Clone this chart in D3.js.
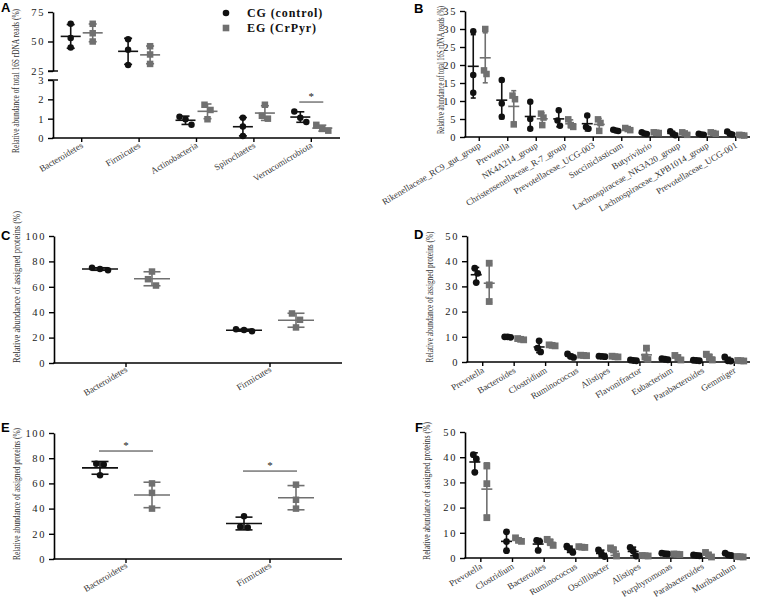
<!doctype html>
<html>
<head>
<meta charset="utf-8">
<title></title>
<style>
body{margin:0;background:#fff;}
svg text{font-family:"Liberation Serif","Times New Roman",serif;}
</style>
</head>
<body>
<svg></svg>
<script src="https://cdn.jsdelivr.net/npm/d3@7/dist/d3.min.js"></script>
<script>
var width = 758, height = 603;
var cgColor = '#111', egColor = '#707070';

// A: phyla, 16S reads (broken axis)
var aCategories = ['Bacteroidetes','Firmicutes','Actinobacteria','Spirochaetes','Verrucomicrobiota'];
var aCG = [[65,53,45],[52,43,30],[1.1,0.97,0.68],[1.05,0.6,0.1],[1.37,1.05,0.83]];
var aEG = [[65,57,50],[46,39,31],[1.72,1.45,0.97],[1.72,1.15,1.0],[0.68,0.47,0.38]];
var aTicksUpper = [25,50,75];
var aTicksLower = [0,1,2,3];

// B: genera, 16S reads
var bCategories = ['Rikenellaceae_RC9_gut_group','Prevotella','NK4A214_group','Christensenellaceae_R-7_group',
  'Prevotellaceae_UCG-003','Succiniclasticum','Butyrivibrio','Lachnospiraceae_NK3A20_group',
  'Lachnospiraceae_XPB1014_group','Prevotellaceae_UCG-001'];
var bCG = [[29.4,17.2,12.3],[15.8,9.3,5.6],[9.8,5.0,2.3],[7.4,4.6,3.1],[6.0,2.8,2.3],[2.0,1.8,1.7],[1.3,1.0,0.8],[1.6,0.9,0.5],[0.9,0.7,0.6],[1.5,0.9,0.7]];
var bEG = [[30,18.5,17.5],[11.5,10.5,3.5],[6.5,5.4,3.3],[4.9,3.3,2.8],[4.9,3.9,1.7],[2.5,2.2,1.9],[1.3,1.2,1.1],[1.3,1.0,0.6],[1.3,1.1,0.9],[0.6,0.5,0.4]];
var bTicks = [0,5,10,15,20,25,30,35];

// C: phyla, assigned proteins
var cCategories = ['Bacteroidetes','Firmicutes'];
var cCG = [[75,74,73],[26.5,26,25]];
var cEG = [[72,66,61],[39,34,28]];
var cTicks = [0,20,40,60,80,100];

// D: genera, assigned proteins
var dCategories = ['Prevotella','Bacteroides','Clostridium','Ruminococcus','Alistipes','Flavonifractor','Eubacterium','Parabacteroides','Gemmiger'];
var dCG = [[37.2,35.2,31.5],[10,10,9.8],[8.4,5.5,4],[3.2,2.2,1.8],[2.3,2.2,2.1],[0.8,0.6,0.5],[1.3,1.1,0.9],[0.7,0.6,0.5],[2.0,0.5,0.4]];
var dEG = [[39.2,30.6,24],[9.3,9.0,8.8],[6.8,6.6,6.4],[2.7,2.6,2.5],[2.3,2.1,2.0],[5.5,2,1],[2.6,1.8,0.8],[3.1,1.9,0.8],[0.6,0.5,0.4]];
var dTicks = [0,10,20,30,40,50];

// E: phyla, assigned proteins
var eCategories = ['Bacteroidetes','Firmicutes'];
var eCG = [[75.5,75,66.5],[34,25,25.5]];
var eEG = [[60,52.5,40],[59,47,40]];
var eTicks = [0,20,40,60,80,100];

// F: genera, assigned proteins
var fCategories = ['Prevotella','Clostridium','Bacteroides','Ruminococcus','Oscillibacter','Alistipes','Porphyromonas','Parabacteroides','Muribaculum'];
var fCG = [[41,39.3,34],[10.4,6.5,2.9],[7,6.6,3],[4.7,3.5,2.2],[3.2,1.6,0.6],[4.2,2.8,0.8],[1.9,1.7,1.6],[1.2,1.0,0.9],[1.9,1.2,1.0]];
var fEG = [[36.5,29.5,16],[8,7,6.6],[7.4,6.3,5],[4.5,4.3,4.2],[4.0,3.2,0.8],[1.0,0.9,0.8],[1.6,1.5,1.4],[2.2,1.2,0.4],[0.6,0.5,0.4]];
var fTicks = [0,10,20,30,40,50];

var label16S = 'Relative abundance of total 16S rDNA reads (%)';
var labelProt = 'Relative abundance of assigned proteins (%)';

var svg = d3.select('svg').attr('width', width).attr('height', height);

// spread overlapping points sideways, like a scatter dot plot
function spread(ys, thr, step) {
  var idx = ys.map(function(y, i){ return i; }).sort(function(a, b){ return ys[a] - ys[b]; });
  var offs = ys.map(function(){ return 0; });
  var cluster = [idx[0]];
  function flush() {
    var n = cluster.length;
    cluster.forEach(function(k, j){ offs[k] = (j - (n - 1) / 2) * step; });
  }
  for (var i = 1; i < idx.length; i++) {
    if (ys[idx[i]] - ys[cluster[cluster.length - 1]] < thr) cluster.push(idx[i]);
    else { flush(); cluster = [idx[i]]; }
  }
  flush();
  return offs;
}

function drawPanel(o) {
  var g = svg.append('g');
  var x = d3.scaleBand().domain(o.cats).range([o.x0, o.x1]).padding(0);
  var segs = o.segments.map(function(s){
    return { domain: s.domain, ticks: s.ticks, scale: d3.scaleLinear().domain(s.domain).range(s.range) };
  });
  function y(v) {
    for (var i = 0; i < segs.length; i++) {
      if (v >= segs[i].domain[0] && v <= segs[i].domain[1]) return segs[i].scale(v);
    }
    return segs[segs.length - 1].scale(v);
  }
  var axisY = segs[segs.length - 1].scale(0);
  var r = o.marker / 2;

  // y axes
  segs.forEach(function(s){
    var ax = g.append('g').attr('transform', 'translate(' + o.x0 + ',0)')
      .call(d3.axisLeft(s.scale).tickValues(s.ticks).tickFormat(d3.format('d'))
        .tickSize(5).tickSizeOuter(0).tickPadding(3));
    ax.select('.domain').attr('stroke', '#000').attr('stroke-width', 1.6);
    ax.selectAll('.tick line').attr('stroke', '#000').attr('stroke-width', 1.4);
    ax.selectAll('.tick text').attr('fill', '#222').style('font-size', '10.5px')
      .style('font-family', '"Liberation Serif",serif').style('letter-spacing', '1.6px');
  });
  // break marks on a broken axis
  if (segs.length > 1) {
    for (var i = 0; i < segs.length - 1; i++) {
      [segs[i].scale(segs[i].domain[0]), segs[i + 1].scale(segs[i + 1].domain[1])].forEach(function(by){
        g.append('line').attr('x1', o.x0 - 5).attr('x2', o.x0 + 5).attr('y1', by).attr('y2', by)
          .attr('stroke', '#000').attr('stroke-width', 1.4);
      });
    }
  }

  // x axis
  g.append('line').attr('x1', o.x0 - 0.8).attr('x2', o.x1).attr('y1', axisY).attr('y2', axisY)
    .attr('stroke', '#000').attr('stroke-width', 1.6);
  g.selectAll('.xt').data(o.cats).enter().append('line')
    .attr('x1', function(d){ return x(d) + x.bandwidth() / 2; })
    .attr('x2', function(d){ return x(d) + x.bandwidth() / 2; })
    .attr('y1', axisY).attr('y2', axisY + 4)
    .attr('stroke', '#000').attr('stroke-width', 1.4);
  g.selectAll('.cl').data(o.cats).enter().append('text')
    .attr('text-anchor', 'end')
    .attr('transform', function(d){ return 'translate(' + (x(d) + x.bandwidth() / 2 + 2) + ',' + (axisY + o.labelDy) + ') rotate(-31)'; })
    .attr('fill', '#333').style('font-size', '9px')
    .text(function(d){ return d; });

  // groups
  [{data: o.cg, color: cgColor, off: -o.dodge, shape: 'circle'},
   {data: o.eg, color: egColor, off: o.dodge, shape: 'square'}].forEach(function(grp){
    grp.data.forEach(function(vals, i){
      var cx = x(o.cats[i]) + x.bandwidth() / 2 + grp.off;
      var m = d3.mean(vals), sd = d3.deviation(vals);
      var gg = g.append('g').attr('stroke', grp.color).attr('fill', grp.color);
      gg.append('line').attr('x1', cx).attr('x2', cx).attr('y1', y(m - sd)).attr('y2', y(m + sd)).attr('stroke-width', 1.6);
      [m - sd, m + sd].forEach(function(v){
        gg.append('line').attr('x1', cx - o.capW / 2).attr('x2', cx + o.capW / 2)
          .attr('y1', y(v)).attr('y2', y(v)).attr('stroke-width', 1.6);
      });
      gg.append('line').attr('x1', cx - o.meanW / 2).attr('x2', cx + o.meanW / 2)
        .attr('y1', y(m)).attr('y2', y(m)).attr('stroke-width', 1.6);
      var ys = vals.map(y);
      var offs = spread(ys, o.marker, o.step);
      vals.forEach(function(v, k){
        if (grp.shape === 'circle') {
          gg.append('circle').attr('cx', cx + offs[k]).attr('cy', ys[k]).attr('r', r).attr('stroke', 'none');
        } else {
          gg.append('rect').attr('x', cx + offs[k] - r).attr('y', ys[k] - r)
            .attr('width', o.marker).attr('height', o.marker).attr('stroke', 'none');
        }
      });
    });
  });

  // significance marks
  (o.sig || []).forEach(function(s){
    var c = x(s.cat) + x.bandwidth() / 2;
    var yy = y(s.v);
    g.append('line').attr('x1', c - o.dodge - 1).attr('x2', c + o.dodge + 1).attr('y1', yy).attr('y2', yy)
      .attr('stroke', '#333').attr('stroke-width', 1);
    g.append('text').attr('x', c).attr('y', yy - 2).attr('text-anchor', 'middle')
      .style('font-size', '11px').attr('fill', '#222').text('*');
  });

  // y label
  g.append('text')
    .attr('transform', 'translate(' + o.ylabX + ',' + o.ylabY + ') rotate(-90)')
    .attr('text-anchor', 'middle').attr('fill', '#333').style('font-size', '9.5px')
    .attr('textLength', o.ylabLen).attr('lengthAdjust', 'spacingAndGlyphs')
    .text(o.ylab);

  // panel letter
  svg.append('text').attr('x', o.letterX).attr('y', o.letterY)
    .style('font-family', '"Liberation Sans",Arial,sans-serif').style('font-size', '13px')
    .style('font-weight', 'bold').attr('fill', '#000').text(o.letter);
}

drawPanel({
  cats: aCategories, cg: aCG, eg: aEG, x0: 53, x1: 340,
  segments: [{domain: [25, 75], range: [71, 12], ticks: aTicksUpper},
             {domain: [0, 3], range: [138, 80], ticks: aTicksLower}],
  dodge: 11, meanW: 20, capW: 8, marker: 6.5, step: 6, labelDy: 9,
  sig: [{cat: 'Verrucomicrobiota', v: 1.86}],
  ylab: label16S, ylabX: 19, ylabY: 81, ylabLen: 144,
  letter: 'A', letterX: 1, letterY: 12
});
drawPanel({
  cats: bCategories, cg: bCG, eg: bEG, x0: 465, x1: 750,
  segments: [{domain: [0, 35], range: [137, 11], ticks: bTicks}],
  dodge: 6, meanW: 11, capW: 5, marker: 6.5, step: 2.5, labelDy: 10,
  ylab: label16S, ylabX: 444, ylabY: 70, ylabLen: 128,
  letter: 'B', letterX: 414, letterY: 13
});
drawPanel({
  cats: cCategories, cg: cCG, eg: cEG, x0: 54, x1: 342,
  segments: [{domain: [0, 100], range: [363, 236], ticks: cTicks}],
  dodge: 26, meanW: 36, capW: 17, marker: 6.5, step: 8, labelDy: 8,
  ylab: labelProt, ylabX: 20, ylabY: 287, ylabLen: 152,
  letter: 'C', letterX: 1, letterY: 240
});
drawPanel({
  cats: dCategories, cg: dCG, eg: dEG, x0: 467, x1: 750,
  segments: [{domain: [0, 50], range: [362, 236], ticks: dTicks}],
  dodge: 6.5, meanW: 11, capW: 6, marker: 6.8, step: 3, labelDy: 10,
  ylab: labelProt, ylabX: 433, ylabY: 297, ylabLen: 131,
  letter: 'D', letterX: 414, letterY: 239
});
drawPanel({
  cats: eCategories, cg: eCG, eg: eEG, x0: 54, x1: 342,
  segments: [{domain: [0, 100], range: [559, 433], ticks: eTicks}],
  dodge: 26, meanW: 36, capW: 17, marker: 6.5, step: 7.5, labelDy: 8,
  sig: [{cat: 'Bacteroidetes', v: 85.7}, {cat: 'Firmicutes', v: 69.8}],
  ylab: labelProt, ylabX: 20, ylabY: 494, ylabLen: 132,
  letter: 'E', letterX: 1, letterY: 432
});
drawPanel({
  cats: fCategories, cg: fCG, eg: fEG, x0: 465, x1: 750,
  segments: [{domain: [0, 50], range: [558, 432], ticks: fTicks}],
  dodge: 6, meanW: 11, capW: 6, marker: 6.8, step: 3, labelDy: 10,
  ylab: labelProt, ylabX: 430, ylabY: 491, ylabLen: 138,
  letter: 'F', letterX: 415, letterY: 432
});

// legend (panel A)
var legend = svg.append('g');
legend.append('circle').attr('cx', 226).attr('cy', 13).attr('r', 3.3).attr('fill', cgColor);
legend.append('rect').attr('x', 222.7).attr('y', 24.7).attr('width', 6.6).attr('height', 6.6).attr('fill', egColor);
legend.append('text').attr('x', 247).attr('y', 17).style('font-size', '12px').style('font-weight', 'bold')
  .style('letter-spacing', '0.9px').attr('fill', '#111').text('CG (control)');
legend.append('text').attr('x', 247).attr('y', 32).style('font-size', '12px').style('font-weight', 'bold')
  .style('letter-spacing', '0.9px').attr('fill', '#111').text('EG (CrPyr)');
</script>
</body>
</html>
